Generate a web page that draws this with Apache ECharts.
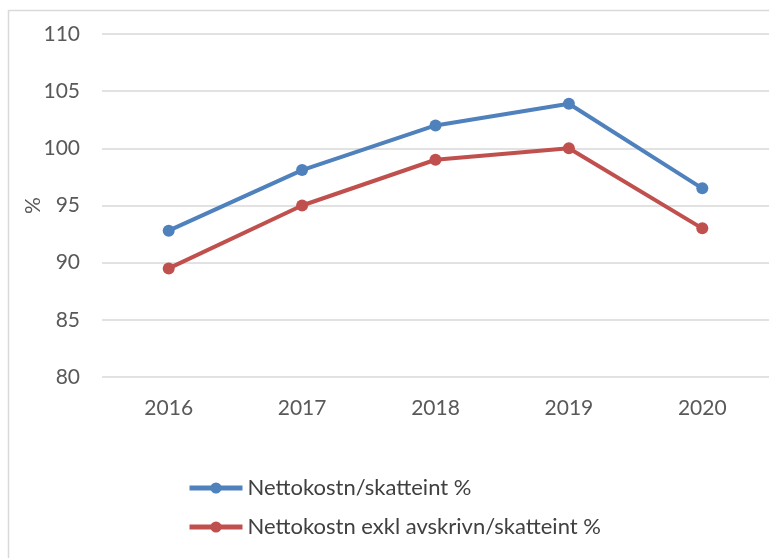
<!DOCTYPE html>
<html>
<head>
<meta charset="utf-8">
<title>Nettokostnad i förhållande till skatteintäkter</title>
<script src="https://cdn.jsdelivr.net/npm/echarts@6/dist/echarts.min.js"></script>
<style>
  html, body { margin: 0; padding: 0; background: #fff; }
  #chart { width: 769px; height: 558px; }
</style>
</head>
<body>
<div id="chart"></div>
<script>
// Years on the category axis
const years = ['2016', '2017', '2018', '2019', '2020'];

// Net cost as share of tax revenue (%)
const nettoSkatt = [92.8, 98.1, 102.0, 103.9, 96.5];
// Net cost excluding depreciation as share of tax revenue (%)
const nettoExklAvskr = [89.5, 95.0, 99.0, 100.0, 93.0];

const seriesNames = ['Nettokostn/skatteint %', 'Nettokostn exkl avskrivn/skatteint %'];
const colors = ['#4F81BD', '#C0504D'];

const fontFamily = 'Lato, "Open Sans", sans-serif';

const chart = echarts.init(document.getElementById('chart'), null, { renderer: 'canvas' });

function lineSeries(name, data, color) {
  return {
    name: name,
    type: 'line',
    data: data,
    symbol: 'circle',
    symbolSize: 12,
    showSymbol: true,
    lineStyle: { width: 4, color: color },
    itemStyle: { color: color },
    emphasis: { disabled: true },
    z: 3
  };
}

chart.setOption({
  animation: false,
  backgroundColor: '#ffffff',
  textStyle: { fontFamily: fontFamily },
  graphic: [{
    type: 'rect',
    shape: { x: 8.5, y: 10.5, width: 820, height: 620 },
    style: { fill: 'none', stroke: '#d9d9d9', lineWidth: 1.5 },
    silent: true,
    z: -1
  }],
  grid: { left: 102, right: 0, top: 34, bottom: 181, containLabel: false },
  legend: {
    orient: 'vertical',
    left: 187,
    top: 477,
    padding: 0,
    itemWidth: 53,
    itemHeight: 14,
    itemGap: 17,
    selectedMode: false,
    data: seriesNames,
    lineStyle: { width: 5 },
    textStyle: { color: '#404040', fontSize: 22, fontFamily: fontFamily, lineHeight: 22 }
  },
  xAxis: {
    type: 'category',
    data: years,
    boundaryGap: true,
    axisLine: { show: false },
    axisTick: { show: false },
    axisLabel: { color: '#595959', fontSize: 21, margin: 21, fontFamily: fontFamily },
    splitLine: { show: false }
  },
  yAxis: {
    type: 'value',
    min: 80,
    max: 110,
    interval: 5,
    name: '%',
    nameLocation: 'middle',
    nameRotate: 90,
    nameGap: 58,
    nameMoveOverlap: false,
    nameTextStyle: { color: '#595959', fontSize: 21, fontFamily: fontFamily },
    axisLine: { show: false },
    axisTick: { show: false },
    axisLabel: { color: '#595959', fontSize: 21, margin: 22, fontFamily: fontFamily },
    splitLine: { lineStyle: { color: '#d9d9d9', width: 1.5 } }
  },
  series: [
    lineSeries(seriesNames[0], nettoSkatt, colors[0]),
    lineSeries(seriesNames[1], nettoExklAvskr, colors[1])
  ]
});
</script>
</body>
</html>
